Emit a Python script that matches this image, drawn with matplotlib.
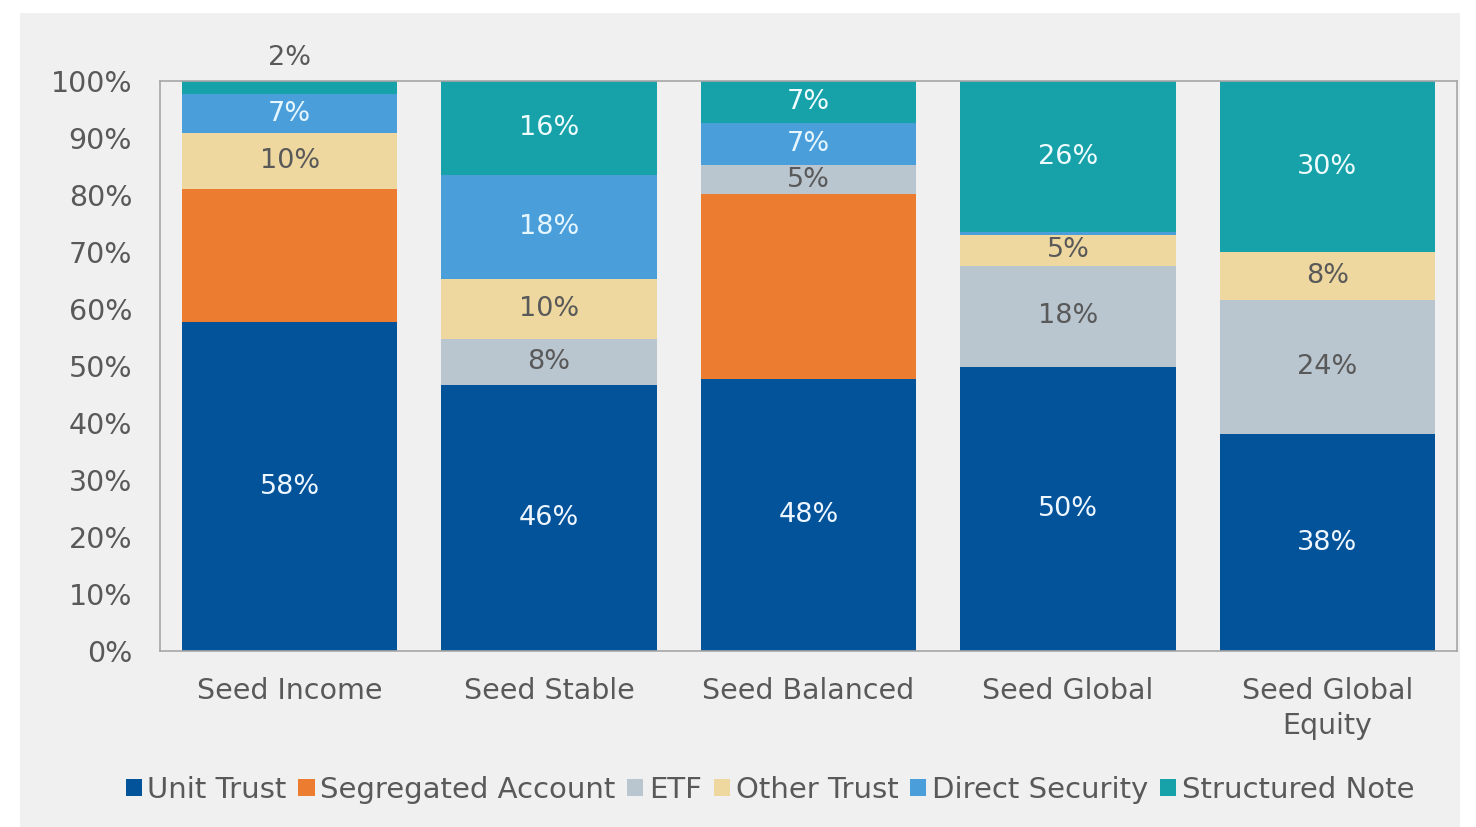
import matplotlib
matplotlib.use("Agg")
import matplotlib.pyplot as plt
import numpy as np
from matplotlib.patches import Rectangle

plt.rcParams["font.family"] = "DejaVu Sans"

funds = ["Seed Income", "Seed Stable", "Seed Balanced", "Seed Global", "Seed Global\nEquity"]
series = ["Unit Trust", "Segregated Account", "ETF", "Other Trust", "Direct Security", "Structured Note"]
unit_trust = [57.7, 46.4, 47.8, 49.6, 38.0]
segregated = [23.3, 0, 32.3, 0, 0]
etf = [0, 8.2, 5.1, 17.6, 23.6]
other_trust = [9.8, 10.4, 0, 5.4, 8.4]
direct_sec = [6.9, 18.2, 7.4, 0.4, 0]
structured = [2.3, 16.4, 7.4, 26.4, 30.0]

colors = ["#03539b", "#ec7d30", "#b9c5cf", "#efd89f", "#4a9fdb", "#17a1a9"]
label_colors = ["#eef7ff", None, "#595959", "#595959", "#e6f6ff", "#eefcff"]
BG, TXT = "#f0f0f0", "#595959"

data = np.array([unit_trust, segregated, etf, other_trust, direct_sec, structured], dtype=float)
pct = data / data.sum(axis=0) * 100  # 100% stacked

fig = plt.figure(figsize=(14.76, 8.27), dpi=100, facecolor="white")
fig.patches.append(Rectangle((20/1476, 0), 1440/1476, 814/827, transform=fig.transFigure,
                             facecolor=BG, edgecolor="none", zorder=-10))
ax = fig.add_axes([160/1476, 176/827, 1297/1476, 570/827])
ax.set_facecolor(BG)

x = np.arange(len(funds))
bottom = np.zeros(len(funds))
for i, name in enumerate(series):
    ax.bar(x, pct[i], 0.83, bottom=bottom, color=colors[i], label=name, zorder=2)
    for j in range(len(funds)):
        v = data[i, j]
        if label_colors[i] is None or v < 1:
            continue
        if v < 4:
            ax.text(x[j], 100 + 1.8, f"{v:.0f}%", ha="center", va="bottom",
                    fontsize=19.5, color=TXT)
        else:
            ax.text(x[j], bottom[j] + pct[i, j] / 2, f"{v:.0f}%", ha="center", va="center",
                    fontsize=19.5, color=label_colors[i])
    bottom += pct[i]

ax.set_xlim(-0.5, 4.5)
ax.set_ylim(0, 100)
ax.set_yticks(np.arange(0, 101, 10))
ax.set_yticklabels([f"{t}%" for t in range(0, 101, 10)])
ax.set_xticks(x)
ax.set_xticklabels(funds, linespacing=1.3)
ax.tick_params(length=0, labelsize=20.5, labelcolor=TXT)
ax.tick_params(axis="y", pad=20)
ax.tick_params(axis="x", pad=19)
for s in ax.spines.values():
    s.set_color("#a6a6a6")
    s.set_linewidth(1.2)

fig.legend(loc="center", bbox_to_anchor=(770/1476, (827-790)/827), ncol=6, frameon=False,
           fontsize=21, handlelength=0.55, handleheight=0.55, handletextpad=0.2,
           columnspacing=0.4, labelcolor=TXT)

fig.savefig("out.png", dpi=100, facecolor="white")
